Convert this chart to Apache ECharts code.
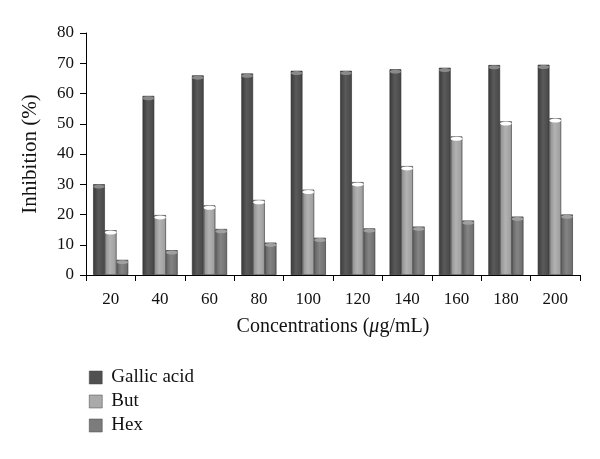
<!DOCTYPE html>
<html><head><meta charset="utf-8">
<script src="https://cdn.jsdelivr.net/npm/echarts@6/dist/echarts.min.js"></script>
<style>html,body{margin:0;padding:0;background:#fff}#c{width:600px;height:459px}</style>
</head><body><div id="c"></div>
<script>
const categories = ['20','40','60','80','100','120','140','160','180','200'];
const gallic = [30.0, 59.2, 66.0, 66.6, 67.5, 67.5, 68.0, 68.5, 69.4, 69.5];
const but = [14.8, 19.8, 23.0, 24.8, 28.2, 30.7, 36.0, 45.8, 50.8, 51.8];
const hex = [5.0, 8.2, 15.2, 10.7, 12.3, 15.4, 16.0, 18.0, 19.3, 20.0];
const seriesNames = ['Gallic acid', 'But', 'Hex'];

const font = '"Liberation Serif", "DejaVu Serif", serif';
function grad(c1, c2, c3) {
  return {type:'linear', x:0, y:0, x2:1, y2:0, colorStops:[
    {offset:0, color:c1},{offset:0.45, color:c2},{offset:1, color:c3}]};
}
const styles = [
  {fill: grad('#3a3a3a','#5a5a5a','#464646'), cap:'#8a8a8a', legend:'#505050'},
  {fill: grad('#8e8e8e','#b2b2b2','#9c9c9c'), cap:'#ffffff', legend:'#aaaaaa'},
  {fill: grad('#606060','#848484','#6c6c6c'), cap:'#a0a0a0', legend:'#7c7c7c'}
];
const dataSets = [gallic, but, hex];
const series = [];
dataSets.forEach((d, i) => {
  series.push({
    name: seriesNames[i], type:'bar', data:d, barGap:'0%', barCategoryGap:'29%',
    itemStyle:{color:styles[i].fill, borderColor:'#2a2a2a', borderWidth:0.6},
    z:2
  });
});
dataSets.forEach((d, i) => {
  series.push({
    name: seriesNames[i] + ' cap', type:'pictorialBar', data:d, barGap:'0%', barCategoryGap:'29%',
    symbol:'circle', symbolSize:['100%', 4], symbolPosition:'end',
    itemStyle:{color:styles[i].cap, borderColor:'#111', borderWidth:1},
    z:5, silent:true, legendHoverLink:false
  });
});

const chart = echarts.init(document.getElementById('c'));
chart.setOption({
  animation:false,
  backgroundColor:'#fff',
  grid:{left:86, right:20, top:33, bottom:184, containLabel:false},
  legend:{
    data: seriesNames.map((n,i)=>({name:n, itemStyle:{color:styles[i].legend, borderColor:'#444', borderWidth:0.5}})),
    orient:'vertical', left:84, top:363, itemWidth:13, itemHeight:13, itemGap:5,
    icon:'rect', textStyle:{fontFamily:font, fontSize:19, color:'#111', padding:[0,0,0,4]}
  },
  xAxis:{
    type:'category', data:categories,
    name:'Concentrations ({i|μ}g/mL)', nameLocation:'middle', nameGap:42,
    nameTextStyle:{fontFamily:font, fontSize:20, color:'#111', rich:{i:{fontFamily:font, fontStyle:'italic', fontSize:20, color:'#111'}}},
    axisLine:{lineStyle:{color:'#000', width:1}},
    axisTick:{show:true, length:6, lineStyle:{color:'#000'}},
    axisLabel:{fontFamily:font, fontSize:17, color:'#111', margin:16},
    splitLine:{show:false}
  },
  yAxis:{
    type:'value', min:0, max:80, interval:10,
    name:'Inhibition (%)', nameLocation:'middle', nameGap:45, nameRotate:90,
    nameTextStyle:{fontFamily:font, fontSize:21, color:'#111'},
    axisLine:{show:true, lineStyle:{color:'#000', width:1}},
    axisTick:{show:true, length:6, lineStyle:{color:'#000'}},
    axisLabel:{fontFamily:font, fontSize:17, color:'#111', margin:12},
    splitLine:{show:false}
  },
  series: series
});
</script></body></html>
